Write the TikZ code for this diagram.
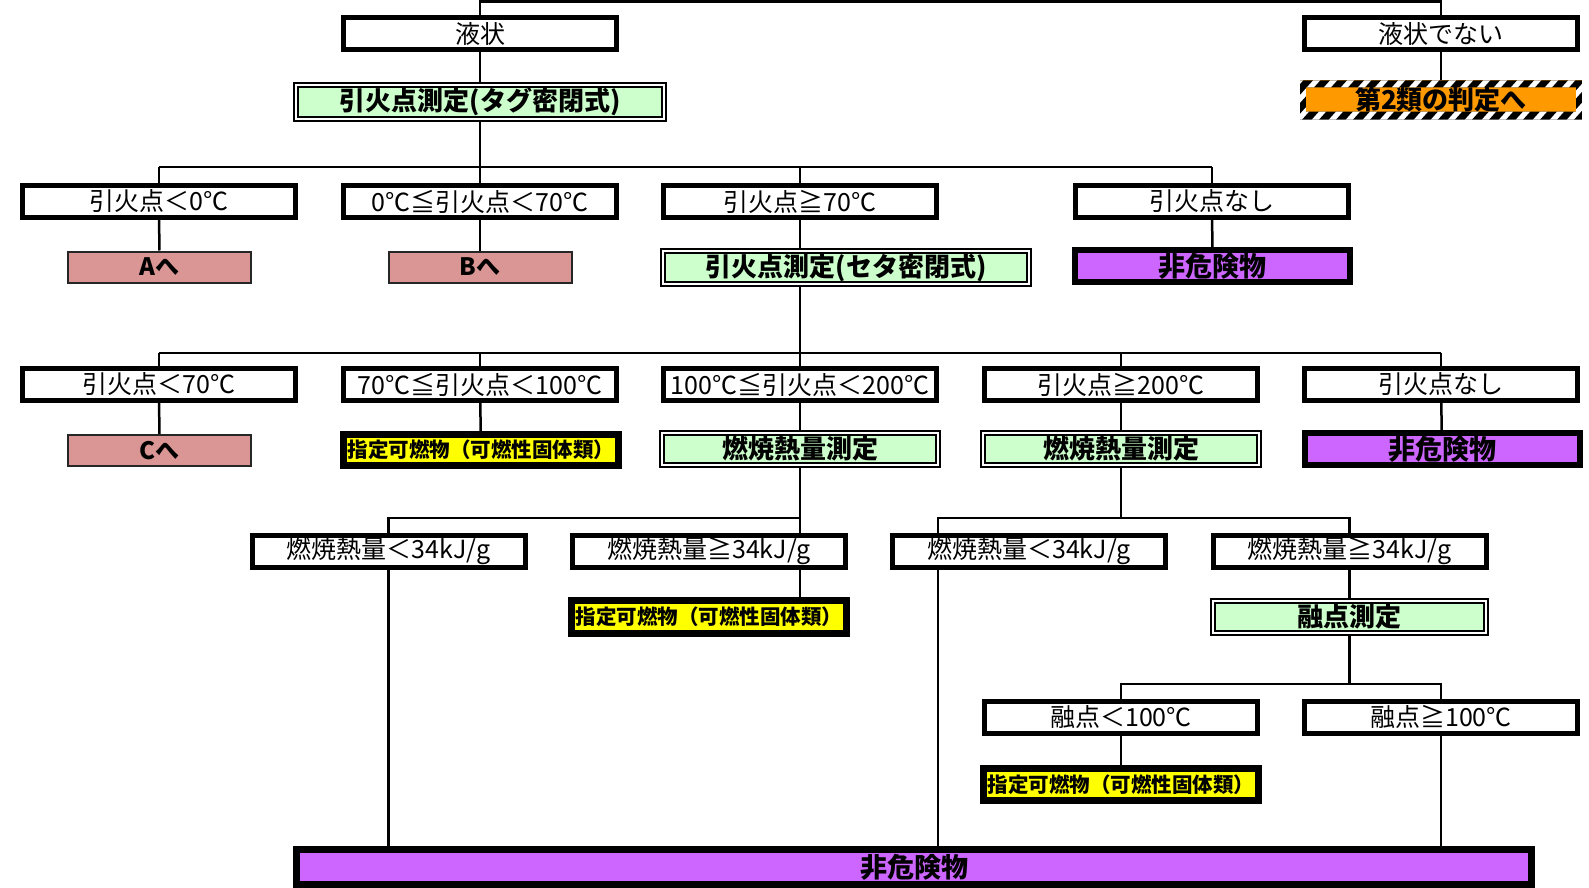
\documentclass[tikz,border=0pt]{standalone}
\usepackage{fontspec}
\setmainfont{Noto Sans CJK JP}
\usetikzlibrary{backgrounds}
\definecolor{grn}{HTML}{CCFFCC}
\definecolor{pnk}{HTML}{DA9694}
\definecolor{prp}{HTML}{CC66FF}
\definecolor{org}{HTML}{FF9900}
\definecolor{ylw}{HTML}{FFFF00}
\begin{document}
\begin{tikzpicture}[x=1pt,y=-1pt,
  conn/.style={draw=black, line width=2.5pt},
  wbox/.style={draw=black, line width=5pt, fill=white, minimum width=273pt, minimum height=32pt, inner sep=0pt, font=\fontsize{25}{25}\selectfont},
  gbox/.style={draw=black, line width=2pt, double=white, double distance=2pt, fill=grn, minimum width=276pt, minimum height=32pt, inner sep=0pt, font=\fontsize{26}{26}\selectfont\bfseries},
  pbox/.style={draw=black!85, line width=2pt, fill=pnk, minimum width=183pt, minimum height=31pt, inner sep=0pt, font=\fontsize{24}{24}\selectfont\bfseries},
  vbox/.style={draw=black, line width=6pt, fill=prp, minimum width=275pt, minimum height=32pt, inner sep=0pt, font=\fontsize{27}{27}\selectfont\bfseries},
  ybox/.style={draw=black, line width=7pt, fill=ylw, minimum width=275pt, minimum height=31pt, inner sep=0pt, font=\fontsize{20.5}{20.5}\selectfont\bfseries},
  obox/.style={fill=org, minimum width=282pt, minimum height=39pt, inner sep=0pt, font=\fontsize{26}{26}\selectfont\bfseries},
]
\useasboundingbox (0,0) rectangle (1589,888);
% row 1
\node[wbox] (liq) at (480,34) {液状};
\node[wbox] (nliq) at (1441,34) {液状でない};
\node[gbox, minimum width=368pt, minimum height=34pt] (tag) at (480,102) {引火点測定(タグ密閉式)};
\node[obox] (k2) at (1441,100) {第2類の判定へ};
% row 2
\node[wbox] (r2a) at (159,201.5) {引火点＜0℃};
\node[wbox] (r2b) at (480,201.5) {0℃≦引火点＜70℃};
\node[wbox] (r2c) at (800,201.5) {引火点≧70℃};
\node[wbox] (r2d) at (1212,201.5) {引火点なし};
\node[pbox] (toA) at (159.5,267) {Aへ};
\node[pbox] (toB) at (480,267) {Bへ};
\node[gbox, minimum width=366pt, minimum height=33pt] (seta) at (846,267.5) {引火点測定(セタ密閉式)};
\node[vbox] (nh1) at (1212.5,266) {非危険物};
% row 3
\node[wbox] (r3a) at (159,384.5) {引火点＜70℃};
\node[wbox] (r3b) at (480,384.5) {70℃≦引火点＜100℃};
\node[wbox] (r3c) at (800,384.5) {100℃≦引火点＜200℃};
\node[wbox] (r3d) at (1121,384.5) {引火点≧200℃};
\node[wbox] (r3e) at (1441,384.5) {引火点なし};
\node[pbox] (toC) at (159.5,450.5) {Cへ};
\node[ybox] (sk1) at (481,450) {指定可燃物（可燃性固体類）};
\node[gbox] (bm1) at (800,449) {燃焼熱量測定};
\node[gbox] (bm2) at (1121,449) {燃焼熱量測定};
\node[vbox] (nh2) at (1442,449) {非危険物};
% row 4
\node[wbox] (r4a) at (388.5,551.5) {燃焼熱量＜34kJ/g};
\node[wbox] (r4b) at (709,551.5) {燃焼熱量≧34kJ/g};
\node[wbox] (r4c) at (1029,551.5) {燃焼熱量＜34kJ/g};
\node[wbox] (r4d) at (1349.5,551.5) {燃焼熱量≧34kJ/g};
\node[ybox, minimum height=33pt] (sk2) at (709,617) {指定可燃物（可燃性固体類）};
\node[gbox, minimum width=273pt] (mp) at (1349.5,617) {融点測定};
% row 5
\node[wbox] (r5a) at (1121,717) {融点＜100℃};
\node[wbox] (r5b) at (1441,717) {融点≧100℃};
\node[ybox, minimum height=32pt] (sk3) at (1121,784.5) {指定可燃物（可燃性固体類）};
% bottom
\node[vbox, line width=7pt, minimum width=1235pt, minimum height=35pt] (nhb) at (914,867) {非危険物};
% hazard border of the orange box
\begin{scope}[even odd rule]
  \clip (k2.north west) rectangle (k2.south east)
    ([shift={(6,7)}]k2.north west) rectangle ([shift={(-6,-8)}]k2.south east);
  \fill[black] (k2.north west) rectangle (k2.south east);
  \foreach \i in {-4,...,19}
    \fill[white] ({1290+\i*17},125) -- ++(7,0) -- ++(45,-50) -- ++(-7,0) -- cycle;
\end{scope}
% connectors
\coordinate (y0) at (0,1.5);
\coordinate (y1) at (0,167);
\coordinate (y2) at (0,353);
\coordinate (y3) at (0,518);
\coordinate (y4) at (0,684);
\coordinate (xc) at (938,0);
\begin{pgfonlayer}{background}
\fill[white] (0,0) rectangle (1589,888);
\draw[conn] (liq.north) -- (liq.north|-y0) -- (nliq.north|-y0) -- (nliq.north);
\draw[conn] (liq) -- (tag);
\draw[conn] (nliq) -- (k2);
\draw[conn] (tag) -- (tag|-y1);
\draw[conn] (r2a|-y1) -- (r2d|-y1);
\foreach \n in {r2a,r2b,r2c,r2d} \draw[conn] (\n) -- (\n|-y1);
\draw[conn] (r2a) -- (toA);
\draw[conn] (r2b) -- (toB);
\draw[conn] (r2c) -- (r2c|-y2);
\draw[conn] (r2d) -- (nh1);
\draw[conn] (r3a|-y2) -- (r3e|-y2);
\foreach \n in {r3a,r3b,r3c,r3d,r3e} \draw[conn] (\n) -- (\n|-y2);
\draw[conn] (r3a) -- (toC);
\draw[conn] (r3b) -- (sk1);
\draw[conn] (r3c) -- (bm1);
\draw[conn] (r3d) -- (bm2);
\draw[conn] (r3e) -- (nh2);
\draw[conn] (bm1) -- (bm1|-sk2);
\draw[conn] (r4a) -- (r4a|-y3) -- (bm1|-y3);
\draw[conn] (r4a) -- (r4a|-nhb);
\draw[conn] (bm2) -- (bm2|-y3);
\draw[conn] (xc|-nhb) -- (xc|-y3) -- (r4d|-y3) -- (r4d);
\draw[conn] (r4d) -- (mp);
\draw[conn] (mp) -- (mp|-y4);
\draw[conn] (r5a) -- (r5a|-y4) -- (r5b|-y4) -- (r5b);
\draw[conn] (r5a) -- (sk3);
\draw[conn] (r5b) -- (r5b|-nhb);
\end{pgfonlayer}
\end{tikzpicture}
\end{document}
